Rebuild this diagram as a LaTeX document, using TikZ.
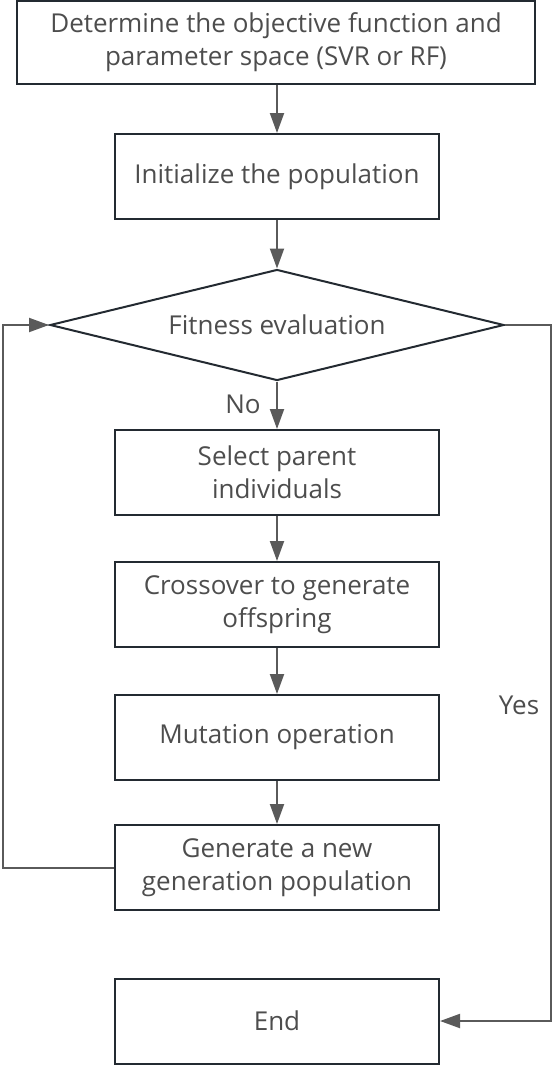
\documentclass[tikz,border=0pt]{standalone}
\usepackage{fontspec}
\setmainfont{Open Sans}
\usetikzlibrary{shapes.geometric,arrows.meta}
\definecolor{txt}{HTML}{4D4D4D}
\definecolor{bord}{HTML}{232A31}
\definecolor{conn}{HTML}{5A5A5A}
\begin{document}
\begin{tikzpicture}[x=1pt,y=-1pt,
  font=\fontsize{26}{33}\selectfont,
  procbox/.style={draw=bord, line width=2pt, rectangle, minimum width=324pt, minimum height=85pt, inner sep=0pt, align=center, text=txt},
  decis/.style={draw=bord, line width=2pt, diamond, aspect=4.09, minimum width=454pt, minimum height=111pt, inner sep=0pt, align=center, text=txt},
  conline/.style={draw=conn, line width=2pt, -{Triangle[length=20pt,width=14pt]}},
  lbl/.style={text=txt, inner sep=0pt}]
\useasboundingbox (0,0) rectangle (553,1065);
\node[procbox, minimum width=518pt, minimum height=83pt] (b1) at (276,42.5) {Determine the objective function and\\parameter space (SVR or RF)};
\node[procbox] (b2) at (277,176.5) {Initialize the population};
\node[decis] (dia) at (277,325) {Fitness evaluation};
\node[procbox] (b3) at (277,472.5) {Select parent\\individuals};
\node[procbox] (b4) at (277,604.5) {Crossover to generate\\offspring};
\node[procbox] (b5) at (277,737.5) {Mutation operation};
\node[procbox] (b6) at (277,867.5) {Generate a new\\generation population};
\node[procbox] (b7) at (277,1021) {End};
\node[lbl] (no) at (243,404) {No};
\node[lbl] (yes) at (519,705) {Yes};
\coordinate (L) at (3,325);
\coordinate (R) at (551,325);
\draw[conline] (b1.south -| b2.north) -- (b2.north);
\draw[conline] (b2.south) -- (dia.north);
\draw[conline] (dia.south) -- (b3.north);
\draw[conline] (b3) -- (b4);
\draw[conline] (b4) -- (b5);
\draw[conline] (b5) -- (b6);
\draw[conline] (b6.west) -| (L) -- (dia.west);
\draw[conline] (dia.east) -- (R) |- (b7.east);
\end{tikzpicture}
\end{document}
